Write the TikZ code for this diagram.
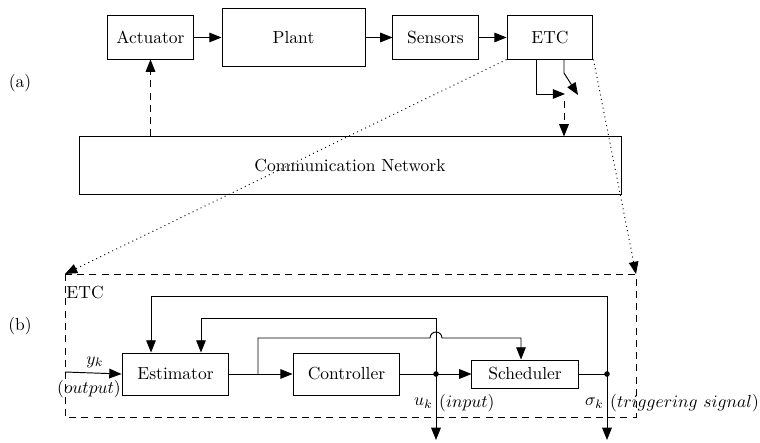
\documentclass[tikz,border=0pt]{standalone}
\usetikzlibrary{arrows.meta,calc}
\begin{document}
\begin{tikzpicture}[x=0.5714pt,y=-0.5714pt, line width=0.55pt,
  blk/.style={draw, inner sep=0pt, minimum height=24.6pt},
  arr/.style={-{Triangle[length=7pt,width=5.5pt]}},
  dsh/.style={dash pattern=on 4pt off 3pt},
  jdot/.style={fill, circle, inner sep=0pt, minimum size=3.2pt}]
\useasboundingbox (0,0) rectangle (760,443);
% part (a)
\node[blk, minimum width=48.6pt] (act) at (150.5,37.5) {Actuator};
\node[blk, minimum width=81.7pt, minimum height=32.6pt] (plant) at (293.5,37.5) {Plant};
\node[blk, minimum width=48.6pt] (sens) at (435.5,37.5) {Sensors};
\node[blk, minimum width=49.1pt] (etc) at (550,37.5) {ETC};
\node[blk, minimum width=309.7pt, minimum height=32.6pt] (net) at (350,165.5) {Communication Network};
\node (la) at (20,83) {(a)};
\node (lb) at (20,326) {(b)};
\draw[arr] (act) -- (plant);
\draw[arr] (plant) -- (sens);
\draw[arr] (sens) -- (etc);
\draw[arr,dsh] (net.north -| act) -- (act.south);
% switch
\coordinate (e1) at (536,94);
\coordinate (e1b) at (565,94);
\coordinate (e3) at (564,73);
\coordinate (e2) at (578,95);
\coordinate (e4) at (564,101);
\draw[arr] (etc.south -| e1) -- (e1) -- (e1b);
\draw[arr] (etc.south -| e3) -- (e3) -- (e2);
\draw[arr,dsh] (e4) -- (e4 |- net.north);
% ETC box
\coordinate (bnw) at (65,274);
\coordinate (bne) at (636,274);
\coordinate (bse) at (636,417);
\draw[dsh] (bnw) rectangle (bse);
\draw[dotted,arr] (etc.south west) -- (bnw);
\draw[dotted,arr] (etc.south east) -- (bne);
\node[anchor=west, inner sep=0pt] (etclab) at (66,293) {ETC};
% part (b)
\node[blk, minimum width=61.1pt, minimum height=24pt] (est) at (175.5,374) {Estimator};
\node[blk, minimum width=61.1pt, minimum height=24pt] (ctl) at (346.5,374) {Controller};
\node[blk, minimum width=60.6pt, minimum height=16pt] (sch) at (525,374) {Scheduler};
\coordinate (in) at (65,372);
\draw[arr] (in) -- (est.west);
\node (yk) at (95,362) {$y_k$};
\node (out) at (89,389) {$(output)$};
\draw[arr] (est) -- (ctl);
\draw[arr] (ctl) -- (sch);
\coordinate (d1) at (436,374);
\coordinate (d2) at (607,374);
\draw (sch) -- (d2);
\coordinate (u0) at (436,318);
\coordinate (uend) at (436,440);
\coordinate (s0) at (607,296);
\coordinate (send) at (607,440);
\coordinate (f2) at (201,318);
\coordinate (f1) at (151,296);
\draw[arr] (u0) -- (uend);
\draw[arr] (s0) -- (send);
\draw[arr] (u0) -- (f2) -- (f2 |- est.north);
\draw[arr] (s0) -- (f1) -- (f1 |- est.north);
\coordinate (br) at (258,374);
\coordinate (bt) at (258,338);
\coordinate (j1) at (430,338);
\coordinate (sc) at (521,338);
\draw[arr] (br) -- (bt) -- (j1) arc[start angle=180, end angle=360, radius=6] -- (sc) -- (sc |- sch.north);
\node[jdot] (n1) at (d1) {};
\node[jdot] (n2) at (d2) {};
\node[anchor=east, inner sep=1pt] (uk) at (435,403) {$u_k$};
\node[anchor=west, inner sep=1pt] (uin) at (437,403) {$(input)$};
\node[anchor=east, inner sep=1pt] (sk) at (606,403) {$\sigma_k$};
\node[anchor=west, inner sep=1pt] (sin) at (608,403) {$(triggering\ signal)$};
\end{tikzpicture}
\end{document}
